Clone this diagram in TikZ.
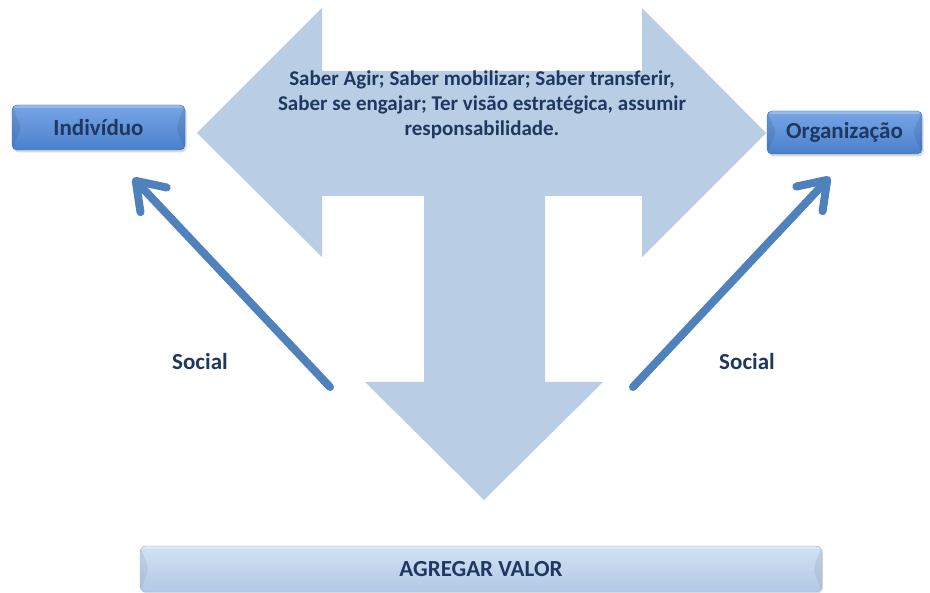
\documentclass[tikz,border=0pt]{standalone}
\usepackage{fontspec}
\setmainfont{Carlito}
\usetikzlibrary{arrows.meta,shadows}
\definecolor{tfill}{RGB}{185,205,229}
\definecolor{navy}{RGB}{31,56,96}
\definecolor{socialblue}{RGB}{79,129,189}
\definecolor{boxtop}{RGB}{120,166,230}
\definecolor{boxbot}{RGB}{74,128,204}
\definecolor{bartop}{RGB}{210,226,245}
\definecolor{barbot}{RGB}{178,200,229}

\begin{document}
\begin{tikzpicture}[x=1pt,y=-1pt,
    cardtext/.style={text=navy, font=\fontsize{23}{28}\selectfont\bfseries},
    bevel/.style={path picture={
        \fill[#1,opacity=0.18] (path picture bounding box.north west) -- ([xshift=9pt]path picture bounding box.west) -- (path picture bounding box.south west) -- cycle;
        \fill[#1,opacity=0.18] (path picture bounding box.north east) -- ([xshift=-9pt]path picture bounding box.east) -- (path picture bounding box.south east) -- cycle;
        \fill[white,opacity=0.25] (path picture bounding box.north west) rectangle ([yshift=-3pt]path picture bounding box.north east);}},
    bluebox/.style={cardtext, rounded corners=5pt, top color=boxtop, bottom color=boxbot,
        draw=boxbot!85!black, line width=0.4pt, inner sep=0pt, bevel=boxbot!60!black,
        drop shadow={opacity=0.3,shadow xshift=1.5pt,shadow yshift=-2.5pt}},
    barbox/.style={cardtext, rounded corners=6pt, top color=bartop, bottom color=barbot,
        draw=barbot!90!black, line width=0.4pt, inner sep=0pt, bevel=barbot!70!black,
        drop shadow={opacity=0.25,shadow xshift=1pt,shadow yshift=-1.5pt}},
    social/.style={draw=socialblue, line width=8pt, line cap=round,
        -{Straight Barb[length=26pt,width=36pt,round]}}
]
\fill[white] (0,0) rectangle (930,593);
\useasboundingbox (0,0) rectangle (930,593);

% T shaped arrow
\fill[tfill] (197,133) -- (322,8) -- (322,71) -- (642,71) -- (642,8) -- (766,133)
    -- (642,257) -- (642,196) -- (545,196) -- (545,382) -- (603,382) -- (484,500)
    -- (365,382) -- (424,382) -- (424,196) -- (322,196) -- (322,257) -- cycle;

\node[text=navy, font=\fontsize{21}{25}\selectfont\bfseries, align=center] (saber) at (482,105)
    {Saber Agir; Saber mobilizar; Saber transferir,\\Saber se engajar; Ter visão estratégica, assumir\\responsabilidade.};

% boxes
\node[bluebox, minimum width=173pt, minimum height=45pt] (indiv) at (98.5,127.5) {Indivíduo};
\node[bluebox, minimum width=155pt, minimum height=43pt] (org) at (844.5,132.5) {Organização};
\node[barbox, minimum width=682pt, minimum height=46pt] (valor) at (481,569) {AGREGAR VALOR};

% social arrows
\coordinate (sl0) at (330,387);
\coordinate (sl1) at (133,178);
\coordinate (sr0) at (633,387);
\coordinate (sr1) at (830,177);
\draw[social] (sl0) -- (sl1);
\draw[social] (sr0) -- (sr1);

\node[cardtext] (socl) at (200,362) {Social};
\node[cardtext] (socr) at (747,362) {Social};
\end{tikzpicture}
\end{document}
